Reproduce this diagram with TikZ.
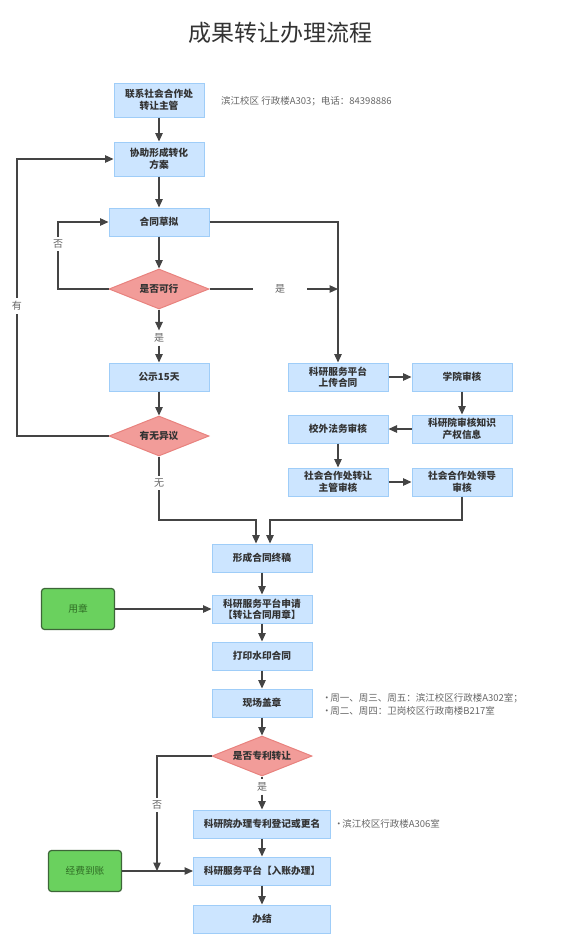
\documentclass[tikz,border=0pt]{standalone}
\usepackage{fontspec}
\setmainfont{Noto Sans CJK SC}
\usetikzlibrary{shapes.geometric,arrows.meta}
\definecolor{boxfill}{HTML}{CCE5FF}
\definecolor{boxline}{HTML}{9FCDF8}
\definecolor{askfill}{HTML}{F29C99}
\definecolor{askline}{HTML}{E8827E}
\definecolor{sealfill}{HTML}{6AD15E}
\definecolor{sealline}{HTML}{3D6638}
\definecolor{sealtext}{HTML}{2E6B24}
\definecolor{ink}{HTML}{333333}
\definecolor{wire}{HTML}{444444}
\definecolor{memo}{HTML}{666666}
\begin{document}
\begin{tikzpicture}[x=1pt,y=-1pt,
        >={Triangle[length=8.5pt,width=7.5pt]},
        stepbox/.style={rectangle,fill=boxfill,draw=boxline,line width=1pt,minimum width=100pt,minimum height=28pt,inner sep=1pt,align=center,text=ink,font=\bfseries\fontsize{9.7}{11.5}\selectfont},
        askbox/.style={diamond,aspect=2.5,fill=askfill,draw=askline,line width=1pt,minimum width=100pt,minimum height=40pt,inner sep=0pt,text=ink,font=\bfseries\fontsize{9.7}{11.5}\selectfont},
        sealbox/.style={rectangle,rounded corners=3pt,fill=sealfill,draw=sealline,line width=1.2pt,minimum width=73pt,minimum height=41pt,text=sealtext,font=\fontsize{9.7}{11.5}\selectfont},
        memotext/.style={anchor=west,align=left,text=memo,inner sep=0pt,font=\fontsize{9.5}{13}\selectfont},
        tag/.style={fill=white,text=memo,inner sep=3pt,font=\fontsize{10}{12}\selectfont},
        wired/.style={draw=wire,line width=1.2pt}]
        \useasboundingbox (0,0) rectangle (583,943);
        \node (title) at (280,33) [text=ink,font=\fontsize{23}{27}\selectfont] {成果转让办理流程};
        \node (lianxi) at (159,100) [stepbox,minimum width=90pt,minimum height=34pt] {联系社会合作处\\转让主管};
        \node (xiezhu) at (159,159) [stepbox,minimum width=90pt,minimum height=34pt] {协助形成转化\\方案};
        \node (caoni) at (159,222) [stepbox] {合同草拟};
        \node (kexing) at (159,289) [askbox] {是否可行};
        \node (gongshi) at (159,377) [stepbox] {公示15天};
        \node (yiyi) at (159,436) [askbox] {有无异议};
        \node (shangchuan) at (338,377) [stepbox] {科研服务平台\\上传合同};
        \node (xueyuan) at (462,377) [stepbox] {学院审核};
        \node (zhishi) at (462,429) [stepbox] {科研院审核知识\\产权信息};
        \node (fawu) at (338,429) [stepbox] {校外法务审核};
        \node (zhuguan) at (338,482) [stepbox] {社会合作处转让\\主管审核};
        \node (lingdao) at (462,482) [stepbox] {社会合作处领导\\审核};
        \node (zhonggao) at (262,558) [stepbox] {形成合同终稿};
        \node (shenqing) at (262,609) [stepbox] {科研服务平台申请\\【转让合同用章】};
        \node (yongzhang) at (78,609) [sealbox] {用章};
        \node (dayin) at (262,656) [stepbox] {打印水印合同};
        \node (gaizhang) at (262,703) [stepbox] {现场盖章};
        \node (zhuanli) at (262,756) [askbox] {是否专利转让};
        \node (dengji) at (262,824) [stepbox,minimum width=137pt] {科研院办理专利登记或更名};
        \node (ruzhang) at (262,871) [stepbox,minimum width=137pt] {科研服务平台【入账办理】};
        \node (banjie) at (262,919) [stepbox,minimum width=137pt] {办结};
        \node (daozhang) at (85,871) [sealbox] {经费到账};
        \node (note1) at (221,101) [memotext] {滨江校区 行政楼A303；电话：84398886};
        \node (note2) at (322,704) [memotext] {·\hspace{-0.15em}周一、周三、周五：滨江校区行政楼A302室；\\·\hspace{-0.15em}周二、周四：卫岗校区行政南楼B217室};
        \node (note3) at (334,824) [memotext] {·\hspace{-0.15em}滨江校区行政楼A306室};
        \coordinate (k1) at (58,289);
        \coordinate (j1) at (338,289);
        \coordinate (y1) at (17,436);
        \coordinate (w1) at (159,520);
        \coordinate (l1) at (462,520);
        \coordinate (z1) at (157,871);
        \node (shi1) at (280,289) [tag,minimum width=54pt] {是};
        \node (shi2) at (159,338) [tag] {是};
        \node (wu) at (159,483) [tag] {无};
        \node (shi3) at (262,787) [tag] {是};
        \draw [wired,->] (lianxi) -- (xiezhu);
        \draw [wired,->] (xiezhu) -- (caoni);
        \draw [wired,->] (caoni) -- (kexing);
        \draw [wired,->] (kexing.west) -- (k1) |- (caoni.west);
        \draw [wired] (kexing.east) -- (shi1.west);
        \draw [wired,->] (shi1.east) -- (j1);
        \draw [wired,->] (caoni.east) -| (shangchuan.north);
        \draw [wired,->] (kexing.south) -- (shi2.north);
        \draw [wired,->] (shi2.south) -- (gongshi.north);
        \draw [wired,->] (gongshi) -- (yiyi);
        \draw [wired,->] (yiyi.west) -- (y1) |- (xiezhu.west);
        \draw [wired] (yiyi.south) -- (wu.north);
        \draw [wired,->] (wu.south) -- (w1) -| ([xshift=-6pt]zhonggao.north);
        \draw [wired,->] (shangchuan) -- (xueyuan);
        \draw [wired,->] (xueyuan) -- (zhishi);
        \draw [wired,->] (zhishi) -- (fawu);
        \draw [wired,->] (fawu) -- (zhuguan);
        \draw [wired,->] (zhuguan) -- (lingdao);
        \draw [wired,->] (lingdao.south) -- (l1) -| ([xshift=8pt]zhonggao.north);
        \draw [wired,->] (zhonggao) -- (shenqing);
        \draw [wired,->] (yongzhang) -- (shenqing);
        \draw [wired,->] (shenqing) -- (dayin);
        \draw [wired,->] (dayin) -- (gaizhang);
        \draw [wired,->] (gaizhang) -- (zhuanli);
        \draw [wired] (zhuanli.south) -- (shi3.north);
        \draw [wired,->] (shi3.south) -- (dengji.north);
        \draw [wired,->] (zhuanli.west) -| (z1);
        \draw [wired,->] (daozhang) -- (ruzhang);
        \draw [wired,->] (dengji) -- (ruzhang);
        \draw [wired,->] (ruzhang) -- (banjie);
        \node [tag] at (58,244) {否};
        \node [tag] at (17,306) {有};
        \node [tag] at (157,805) {否};
\end{tikzpicture}
\end{document}
